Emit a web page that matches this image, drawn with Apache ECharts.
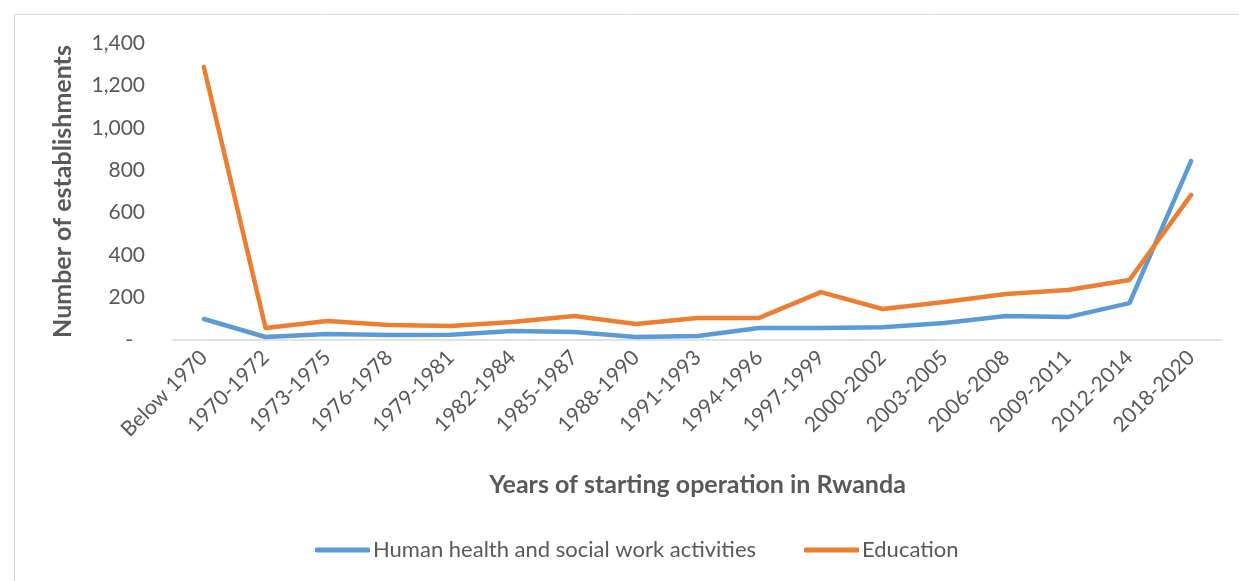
<!DOCTYPE html>
<html>
<head>
<meta charset="utf-8">
<script src="https://cdn.jsdelivr.net/npm/echarts@6/dist/echarts.min.js"></script>
<style>
  html, body { margin: 0; padding: 0; background: #fff; }
  #chart { width: 1239px; height: 581px; }
</style>
</head>
<body>
<div id="chart"></div>
<script>
// categories and values
var years = ['Below 1970', '1970-1972', '1973-1975', '1976-1978', '1979-1981', '1982-1984',
  '1985-1987', '1988-1990', '1991-1993', '1994-1996', '1997-1999', '2000-2002',
  '2003-2005', '2006-2008', '2009-2011', '2012-2014', '2018-2020'];
var health = [99, 14, 28, 24, 25, 42, 38, 14, 19, 57, 57, 60, 80, 113, 108, 174, 844];
var education = [1287, 57, 90, 71, 66, 85, 113, 75, 104, 104, 226, 146, 179, 217, 236, 283, 684];

var FONT = 'Lato, "Open Sans", sans-serif';
var chart = echarts.init(document.getElementById('chart'));

chart.setOption({
  animation: false,
  textStyle: { fontFamily: FONT },
  graphic: [{
    type: 'rect',
    shape: { x: 14.5, y: 14.5, width: 1240, height: 580 },
    style: { fill: 'none', stroke: '#D9D9D9', lineWidth: 1 },
    silent: true
  }],
  grid: { left: 173, right: 17, top: 43, bottom: 241 },
  legend: {
    bottom: 15,
    left: 310,
    itemWidth: 55,
    itemHeight: 5,
    itemGap: 48,
    icon: 'roundRect',
    textStyle: { fontSize: 22, color: '#595959', fontFamily: FONT, padding: [0, 0, 0, -2] },
    data: ['Human health and social work activities', 'Education']
  },
  xAxis: {
    type: 'category',
    data: years,
    boundaryGap: true,
    name: 'Years of starting operation in Rwanda',
    nameLocation: 'middle',
    nameGap: 132,
    nameTextStyle: { fontSize: 25, fontWeight: 'bold', color: '#595959', fontFamily: FONT },
    axisLine: { lineStyle: { color: '#D9D9D9', width: 1.5 } },
    axisTick: { show: false },
    axisLabel: { rotate: 45, fontSize: 21, color: '#595959', margin: 14, interval: 0 }
  },
  yAxis: {
    type: 'value',
    min: 0,
    max: 1400,
    interval: 200,
    name: 'Number of establishments',
    nameLocation: 'middle',
    nameGap: 98,
    nameTextStyle: { fontSize: 25, fontWeight: 'bold', color: '#595959', fontFamily: FONT },
    axisLine: { show: false },
    axisTick: { show: false },
    splitLine: { show: false },
    axisLabel: {
      fontSize: 21,
      color: '#595959',
      margin: 28,
      formatter: function (v) { return v === 0 ? '{z|-}' : v.toLocaleString('en-US'); },
      rich: { z: { fontSize: 21, color: '#595959', padding: [0, 12, 0, 0] } }
    }
  },
  series: [{
    name: 'Human health and social work activities',
    type: 'line',
    data: health,
    symbol: 'none',
    lineStyle: { color: '#5B9BD5', width: 4.5, cap: 'round', join: 'round' },
    itemStyle: { color: '#5B9BD5' }
  }, {
    name: 'Education',
    type: 'line',
    data: education,
    symbol: 'none',
    lineStyle: { color: '#ED7D31', width: 4.5, cap: 'round', join: 'round' },
    itemStyle: { color: '#ED7D31' }
  }]
});
</script>
</body>
</html>
